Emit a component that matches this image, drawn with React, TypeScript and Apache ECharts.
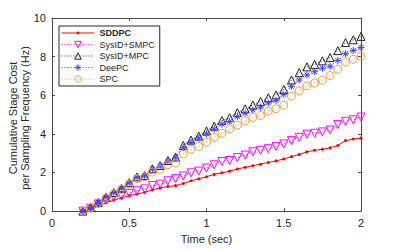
import React, { useEffect, useRef } from "react";
import * as echarts from "echarts";

const timeSec = [0.2, 0.25, 0.3, 0.35, 0.4, 0.45, 0.5, 0.55, 0.6, 0.65, 0.7, 0.75, 0.8, 0.85, 0.9, 0.95, 1.0, 1.05, 1.1, 1.15, 1.2, 1.25, 1.3, 1.35, 1.4, 1.45, 1.5, 1.55, 1.6, 1.65, 1.7, 1.75, 1.8, 1.85, 1.9, 1.95, 2.0];

const sddpc = [0, 0.1, 0.27, 0.43, 0.57, 0.68, 0.8, 0.88, 0.97, 1.1, 1.2, 1.27, 1.32, 1.43, 1.57, 1.67, 1.78, 1.9, 1.98, 2.07, 2.18, 2.27, 2.35, 2.43, 2.52, 2.6, 2.7, 2.82, 2.93, 3.07, 3.15, 3.2, 3.28, 3.4, 3.65, 3.73, 3.78];

const sysidSmpc = [0, 0.15, 0.37, 0.57, 0.75, 0.8, 0.92, 1.05, 1.15, 1.32, 1.4, 1.57, 1.68, 1.82, 1.98, 2.07, 2.23, 2.4, 2.57, 2.62, 2.77, 2.9, 3.07, 3.15, 3.23, 3.35, 3.48, 3.65, 3.82, 3.98, 4.03, 4.1, 4.2, 4.48, 4.65, 4.73, 4.87];

const sysidMpc = [0, 0.18, 0.45, 0.72, 0.96, 1.18, 1.47, 1.77, 1.84, 2.19, 2.36, 2.62, 2.8, 3.4, 3.68, 3.88, 4.15, 4.4, 4.69, 4.84, 5.1, 5.3, 5.5, 5.68, 5.87, 6.02, 6.3, 6.79, 7.17, 7.47, 7.6, 7.78, 7.95, 8.31, 8.73, 8.87, 9.05];

const deepc = [0, 0.18, 0.45, 0.72, 0.95, 1.18, 1.45, 1.75, 1.82, 2.17, 2.33, 2.58, 2.75, 3.3, 3.55, 3.78, 4.0, 4.25, 4.5, 4.64, 4.9, 5.07, 5.24, 5.38, 5.6, 5.73, 6.05, 6.46, 6.79, 7.05, 7.22, 7.4, 7.5, 7.8, 8.15, 8.32, 8.47];

const spc = [0, 0.17, 0.42, 0.68, 0.9, 1.12, 1.4, 1.68, 1.78, 2.02, 2.17, 2.4, 2.48, 2.95, 3.2, 3.35, 3.57, 3.82, 4.03, 4.26, 4.45, 4.67, 4.85, 4.95, 5.17, 5.3, 5.48, 5.95, 6.23, 6.48, 6.64, 6.78, 7.02, 7.35, 7.72, 7.86, 8.02];

const seriesNames = ["SDDPC", "SysID+SMPC", "SysID+MPC", "DeePC", "SPC"];
const xTicks = { min: 0, max: 2, interval: 0.5 };
const yTicks = { min: 0, max: 10, interval: 2 };

const FONT = "'Liberation Sans', Arial, Helvetica, sans-serif";
const TXT = "#262626";
const AX = "#4a4a4a";
const CLEAR = "rgba(0,0,0,0)";

const pair = (vals: number[]) => timeSec.map((t, i) => [t, vals[i]]);

const STAR = "path://M5,0L5,10M0,5L10,5M1.46,1.46L8.54,8.54M1.46,8.54L8.54,1.46";
// small dot inside a 10x10 box (corner moveTo points keep the box size)
const DOT = "path://M0,0M10,10M5,2.8A2.2,2.2,0,1,1,5,7.2A2.2,2.2,0,1,1,5,2.8Z";

type Sty = { color: string; dash: number[] | "solid"; symbol: string; size: number; rotate: number; filled: boolean };
const DOTS = [1, 2];
const styles: Sty[] = [
  { color: "#ff0000", dash: "solid", symbol: DOT, size: 7, rotate: 0, filled: true },
  { color: "#ff00ff", dash: DOTS, symbol: "triangle", size: 8, rotate: 180, filled: false },
  { color: "#222222", dash: DOTS, symbol: "triangle", size: 8, rotate: 0, filled: false },
  { color: "#4040ff", dash: DOTS, symbol: STAR, size: 7, rotate: 0, filled: false },
  { color: "#f59a3a", dash: DOTS, symbol: "circle", size: 8, rotate: 0, filled: false },
];
const values = [sddpc, sysidSmpc, sysidMpc, deepc, spc];

export default function App() {
  const ref = useRef<HTMLDivElement>(null);
  useEffect(() => {
    if (!ref.current) return;
    const chart = echarts.init(ref.current, undefined, { renderer: "svg" });
    const axisCommon = {
      axisLine: { show: true, onZero: false, lineStyle: { color: AX, width: 1 } },
      axisTick: { show: true, inside: true, length: 3, lineStyle: { color: AX } },
      splitLine: { show: false },
    };
    const itemStyleOf = (s: Sty) =>
      s.filled
        ? { color: s.color, borderWidth: 0 }
        : { color: CLEAR, borderColor: s.color, borderWidth: 1 };
    chart.setOption({
      animation: false,
      grid: { left: 52, top: 18, width: 309, height: 200, containLabel: false },
      xAxis: [
        {
          type: "value",
          ...xTicks,
          position: "bottom",
          ...axisCommon,
          axisLabel: { fontSize: 11, color: TXT, fontFamily: FONT, margin: 6 },
          name: "Time (sec)",
          nameLocation: "middle",
          nameGap: 20,
          nameTextStyle: { fontSize: 11, color: TXT, fontFamily: FONT },
        },
        {
          type: "value",
          ...xTicks,
          position: "top",
          ...axisCommon,
          axisLabel: { show: false },
        },
      ],
      yAxis: [
        {
          type: "value",
          ...yTicks,
          position: "left",
          ...axisCommon,
          axisLabel: { fontSize: 11, color: TXT, fontFamily: FONT, margin: 6 },
        },
        {
          type: "value",
          ...yTicks,
          position: "right",
          ...axisCommon,
          axisLabel: { show: false },
        },
      ],
      legend: {
        orient: "vertical",
        left: 59,
        top: 26,
        padding: [2, 5, 2, 2],
        itemWidth: 33,
        itemHeight: 8,
        itemGap: 1.5,
        backgroundColor: "#ffffff",
        borderColor: TXT,
        borderWidth: 1,
        borderRadius: 0,
        lineStyle: { width: 1 },
        textStyle: { fontSize: 9, color: TXT, fontFamily: FONT, lineHeight: 10 },
        data: seriesNames.map((name, i) => ({
          name,
          itemStyle: itemStyleOf(styles[i]),
          textStyle: i === 0 ? { fontWeight: "bold" } : {},
        })),
      },
      graphic: [
        {
          type: "text",
          x: 19,
          y: 118,
          rotation: Math.PI / 2,
          style: {
            text: "Cumulative Stage Cost\nper Sampling Frequency (Hz)",
            fontSize: 11,
            fontFamily: FONT,
            fill: TXT,
            textAlign: "center",
            textVerticalAlign: "middle",
            lineHeight: 12,
          },
        },
      ],
      series: seriesNames.map((name, i) => ({
        name,
        type: "line",
        data: pair(values[i]),
        symbol: styles[i].symbol,
        symbolRotate: styles[i].rotate,
        symbolSize: styles[i].size,
        lineStyle: { color: styles[i].color, width: 1, type: styles[i].dash },
        itemStyle: itemStyleOf(styles[i]),
      })),
    });
    return () => chart.dispose();
  }, []);
  return (
    <div
      ref={ref}
      style={{ position: "absolute", left: 0, top: 0, width: 399, height: 249, background: "#fff" }}
    />
  );
}
